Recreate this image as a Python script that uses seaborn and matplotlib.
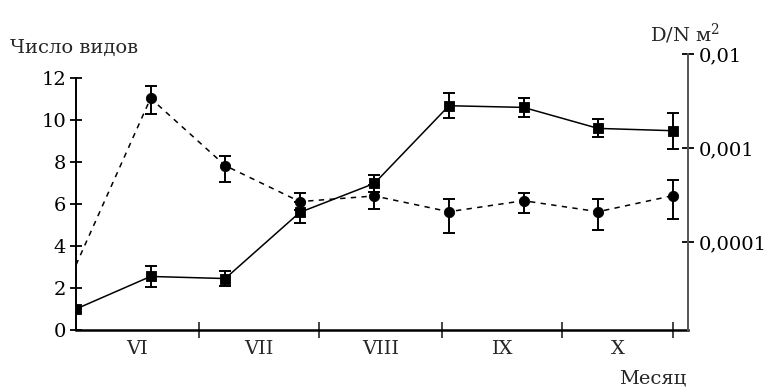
import matplotlib
matplotlib.use("Agg")
import matplotlib.pyplot as plt
from matplotlib.ticker import NullLocator
import seaborn as sns

# 9 sampling dates, June - October
sample = [0, 1, 2, 3, 4, 5, 6, 7, 8]

# number of species (left axis) - squares, solid line
species = [1.0, 2.55, 2.45, 5.6, 6.98, 10.68, 10.6, 9.6, 9.49]
species_err = [0.0, 0.52, 0.35, 0.5, 0.4, 0.6, 0.44, 0.43, 0.85]

# density D/N m2 (right axis, log) - circles, dashed line
density = [5.7e-5, 3.38e-3, 6.5e-4, 2.69e-4, 3.09e-4, 2.1e-4, 2.75e-4, 2.1e-4, 3.11e-4]
density_lo = [5.7e-5, 2.3e-3, 4.38e-4, 2.2e-4, 2.24e-4, 1.24e-4, 2.02e-4, 1.34e-4, 1.74e-4]
density_hi = [5.7e-5, 4.57e-3, 8.28e-4, 3.34e-4, 4.0e-4, 2.84e-4, 3.34e-4, 2.84e-4, 4.57e-4]

# month boundaries on the sample axis and month names
bounds = [0, 1.65, 3.26, 4.91, 6.52, 8.01]
months = ["VI", "VII", "VIII", "IX", "X"]

sns.set_style("white")
plt.rcParams["font.family"] = ["DejaVu Serif"]
plt.rcParams["mathtext.fontset"] = "dejavuserif"
fs = 14

fig = plt.figure(figsize=(7.66, 3.9), dpi=100)
ax = fig.add_axes([76 / 766, 60 / 390, 612 / 766, 276 / 390])
ax.set_xlim(0, 612 / 74.59)
ax.set_ylim(0, 276 / 21)

# species count
sns.lineplot(x=sample, y=species, ax=ax, color="black", lw=1.1)
ax.errorbar(sample[1:], species[1:], yerr=species_err[1:], fmt="none",
            ecolor="black", elinewidth=1.4, capsize=4.5, capthick=1.4)
sns.scatterplot(x=sample, y=species, ax=ax, marker="s", s=60,
                color="black", edgecolor="black", zorder=5)

# density on log axis
ax2 = ax.twinx()
ax2.set_yscale("log")
ax2.set_ylim(10 ** (-4 - 88 / 94), 1e-2)
sns.lineplot(x=sample, y=density, ax=ax2, color="black", lw=1.1,
             linestyle=(0, (3.5, 3.5)))
lo = [d - l for d, l in zip(density[1:], density_lo[1:])]
hi = [h - d for d, h in zip(density[1:], density_hi[1:])]
ax2.errorbar(sample[1:], density[1:], yerr=[lo, hi], fmt="none",
             ecolor="black", elinewidth=1.4, capsize=4.5, capthick=1.4)
sns.scatterplot(x=sample[1:], y=density[1:], ax=ax2, marker="o", s=55,
                color="black", edgecolor="black", zorder=5)

# spines
for s in ["top", "right"]:
    ax.spines[s].set_visible(False)
for s in ["top", "left", "bottom"]:
    ax2.spines[s].set_visible(False)
ax.spines["left"].set_bounds(0, 12)
ax.spines["left"].set_linewidth(1.4)
ax.spines["bottom"].set_linewidth(1.8)
ax.spines["left"].set_color("black")
ax.spines["bottom"].set_color("black")
ax2.spines["right"].set_color("#555555")
ax2.spines["right"].set_linewidth(1.4)

# left axis ticks
ax.set_yticks(range(0, 13, 2))
ax.tick_params(axis="y", direction="inout", length=8, width=1.3,
               labelsize=fs, pad=3, left=True, colors="black")

# right axis ticks
ax2.set_yticks([1e-2, 1e-3, 1e-4])
ax2.set_yticklabels(["0,01", "0,001", "0,0001"])
ax2.yaxis.set_minor_locator(NullLocator())
ax2.tick_params(axis="y", direction="inout", length=8, width=1.3,
                labelsize=fs, pad=4, right=True, colors="black")

# month axis
ax.set_xticks(bounds[1:])
ax.set_xticklabels([""] * (len(bounds) - 1))
ax.tick_params(axis="x", which="major", direction="inout", length=11,
               width=1.2, bottom=True)
mids = [(a + b) / 2 for a, b in zip(bounds[:-1], bounds[1:])]
ax.set_xticks(mids, minor=True)
ax.set_xticklabels(months, minor=True)
ax.tick_params(axis="x", which="minor", length=0, labelsize=fs, pad=7,
               bottom=True)

ax.set_xlabel("")
ax.set_ylabel("")
ax2.set_ylabel("")

fig.text(10 / 766, 1 - 53 / 390, "Число видов", fontsize=fs, va="baseline")
fig.text(650 / 766, 1 - 41 / 390, "D/N м$^{2}$", fontsize=fs, va="baseline")
fig.text(686 / 766, 1 - 384 / 390, "Месяц", fontsize=fs, va="baseline",
         ha="right")

fig.savefig("out.png", dpi=100, facecolor="white")
